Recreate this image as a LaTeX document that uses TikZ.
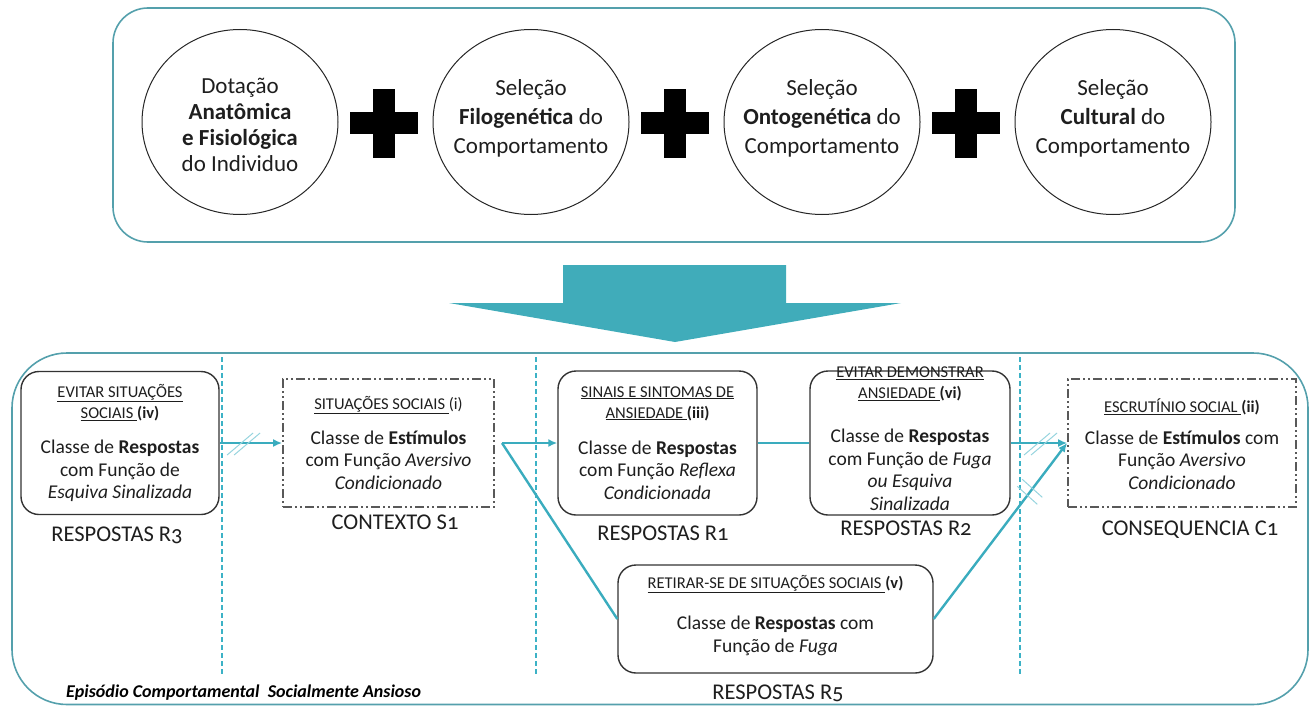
\documentclass[tikz,border=0pt]{standalone}
\usepackage{fontspec}
\setmainfont{Carlito}
\usetikzlibrary{arrows.meta,calc,shapes.geometric}
\definecolor{frameteal}{RGB}{84,160,172}
\definecolor{arrowteal}{RGB}{64,172,186}
\definecolor{connteal}{RGB}{58,172,190}
\definecolor{divteal}{RGB}{60,178,198}
\definecolor{slashteal}{RGB}{150,212,222}
\definecolor{txtgray}{RGB}{30,30,30}
\newcommand{\lbfont}{\fontsize{22.5}{26}\selectfont\addfontfeatures{Numbers=OldStyle}}
\tikzset{
  framebox/.style={draw=frameteal, line width=1.6pt, inner sep=0pt},
  circ/.style={draw=black!85, line width=1pt, ellipse, minimum width=196pt, minimum height=185pt, inner sep=0pt},
  circtxt/.style={align=center, text=txtgray, inner sep=0pt, font=\fontsize{23}{29}\selectfont},
  rbox/.style={draw=black!80, line width=1.4pt, rounded corners=18pt, inner sep=0pt},
  dbox/.style={draw=black!65, line width=1.8pt, inner sep=0pt,
     dash pattern=on 9pt off 3pt on 2pt off 3pt on 2pt off 3pt},
  hd/.style={align=center, text=txtgray, inner sep=0pt, font=\fontsize{16.5}{21}\selectfont},
  bd/.style={align=center, text=txtgray, inner sep=0pt, font=\fontsize{19.5}{22.5}\selectfont},
  lb/.style={text=txtgray, inner sep=0pt, anchor=base, font=\lbfont},
  conn/.style={draw=connteal, line width=2.4pt},
  arr/.style={-{Latex[length=9pt,width=8pt]}},
  slash/.style={draw=slashteal, line width=1pt},
  divider/.style={draw=divteal, line width=1.5pt, dash pattern=on 5pt off 3pt},
  plus/.style={fill=black}
}
\begin{document}
\begin{tikzpicture}[x=1pt,y=-1pt]
\useasboundingbox (0,0) rectangle (1311,706);

% top frame
\node[framebox, rounded corners=35pt, minimum width=1122pt, minimum height=234pt] (top) at (674,125) {};
\node[circ] (c1) at (240,122) {};
\node[circ] (c2) at (531,122) {};
\node[circ] (c3) at (822,122) {};
\node[circ] (c4) at (1113,122) {};
\node[circtxt, font=\fontsize{23}{26}\selectfont] (c1t) at (240,124.5) {Dotação\\\textbf{Anatômica}\\\textbf{e Fisiológica}\\do Individuo};
\node[circtxt] (c2t) at (531,118) {Seleção\\\textbf{Filogenética} do\\Comportamento};
\node[circtxt] (c3t) at (822,118) {Seleção\\\textbf{Ontogenética} do\\Comportamento};
\node[circtxt] (c4t) at (1113,118) {Seleção\\\textbf{Cultural} do\\Comportamento};
\foreach \px in {384,675,966}{
  \fill[plus] (\px-34,112.5) rectangle (\px+34,134.5);
  \fill[plus] (\px-11,89.5) rectangle (\px+11,157.5);
}

% big arrow
\fill[arrowteal] (563,265) -- (786,265) -- (786,303) -- (901,303) -- (675,342) -- (449,303) -- (563,303) -- cycle;

% bottom frame
\node[framebox, rounded corners=55pt, minimum width=1296pt, minimum height=351.5pt] (bottom) at (660,528.75) {};

% dividers
\coordinate (d1a) at (222,357); \coordinate (d1b) at (222,676);
\coordinate (d2a) at (536,357); \coordinate (d2b) at (536,676);
\coordinate (d3a) at (1020,357); \coordinate (d3b) at (1020,676);
\draw[divider] (d1a) -- (d1b);
\draw[divider] (d2a) -- (d2b);
\draw[divider] (d3a) -- (d3b);

% boxes
\node[rbox, minimum width=198pt, minimum height=143pt] (R3) at (120,443) {};
\node[dbox, minimum width=211pt, minimum height=128pt] (S1) at (388.5,443) {};
\node[rbox, minimum width=199pt, minimum height=144pt] (R1) at (657.5,443) {};
\node[rbox, minimum width=200pt, minimum height=144pt] (R2) at (910,443) {};
\node[dbox, minimum width=228pt, minimum height=128pt] (C1) at (1182,443) {};
\node[rbox, minimum width=315pt, minimum height=108pt] (R5) at (775.5,619) {};

% box texts
\node[hd] (R3h) at (120,402.5) {\underline{EVITAR SITUAÇÕES}\\\underline{SOCIAIS }\textbf{(iv)}};
\node[bd] (R3b) at (120,471) {Classe de \textbf{Respostas}\\com Função de\\\textit{Esquiva Sinalizada}};
\node[hd] (S1h) at (388.5,405) {\underline{SITUAÇÕES SOCIAIS }(i)};
\node[bd] (S1b) at (388.5,460) {Classe de \textbf{Estímulos}\\com Função \textit{Aversivo}\\\textit{Condicionado}};
\node[hd] (R1h) at (657.5,403.5) {\underline{SINAIS E SINTOMAS DE}\\\underline{ANSIEDADE }\textbf{(iii)}};
\node[bd] (R1b) at (657.5,470) {Classe de \textbf{Respostas}\\com Função \textit{Reflexa}\\\textit{Condicionada}};
\node[hd] (R2h) at (910,384) {\underline{EVITAR DEMONSTRAR}\\\underline{ANSIEDADE }\textbf{(vi)}};
\node[bd] (R2b) at (910,470) {Classe de \textbf{Respostas}\\com Função de \textit{Fuga}\\\textit{ou Esquiva}\\\textit{Sinalizada}};
\node[hd] (C1h) at (1182,407) {\underline{ESCRUTÍNIO SOCIAL }\textbf{(ii)}};
\node[bd] (C1b) at (1182,460) {Classe de \textbf{Estímulos} com\\Função \textit{Aversivo}\\\textit{Condicionado}};
\node[hd] (R5h) at (775.5,584) {\underline{RETIRAR-SE DE SITUAÇÕES SOCIAIS }\textbf{(v)}};
\node[bd] (R5b) at (775.5,636) {Classe de \textbf{Respostas} com\\Função de \textit{Fuga}};

% labels
\node[lb] (R3l) at (117,541) {RESPOSTAS R3};
\node[lb] (S1l) at (395,529) {CONTEXTO S1};
\node[lb] (R1l) at (663,540) {RESPOSTAS R1};
\node[lb] (R2l) at (906,535) {RESPOSTAS R2};
\node[lb] (C1l) at (1190,535) {CONSEQUENCIA C1};
\node[lb] (R5l) at (778,699) {RESPOSTAS R5};
\node[text=black, inner sep=0pt, anchor=base west, font=\fontsize{18}{21}\selectfont\bfseries\itshape] (ep) at (66,697) {Episódio Comportamental\ \ Socialmente Ansioso};

% connectors
\coordinate (J) at (502,443);
\draw[conn, arr] (R3.east) -- coordinate[pos=0.375] (m1) (S1.west);
\draw[conn, arr] (J) -- (R1.west);
\draw[conn] (J) -- (R5.west);
\draw[conn] (R1.east) -- (R2.west);
\draw[conn, arr] (R2.east) -- coordinate[pos=0.52] (m2) (C1.west);
\draw[conn, arr] (R5.east) -- coordinate[pos=0.72] (m3) (C1.west);

% slash marks
\draw[slash] ($(m1)+(-16,12)$) -- ++(26,-22);
\draw[slash] ($(m1)+(-9,12)$) -- ++(26,-22);
\draw[slash] ($(m2)+(-16,12)$) -- ++(26,-22);
\draw[slash] ($(m2)+(-9,12)$) -- ++(26,-22);
\draw[slash] ($(m3)+(-12.5,-6)$) -- ++(20,18);
\draw[slash] ($(m3)+(-7.5,-13)$) -- ++(20,18);
\end{tikzpicture}
\end{document}
